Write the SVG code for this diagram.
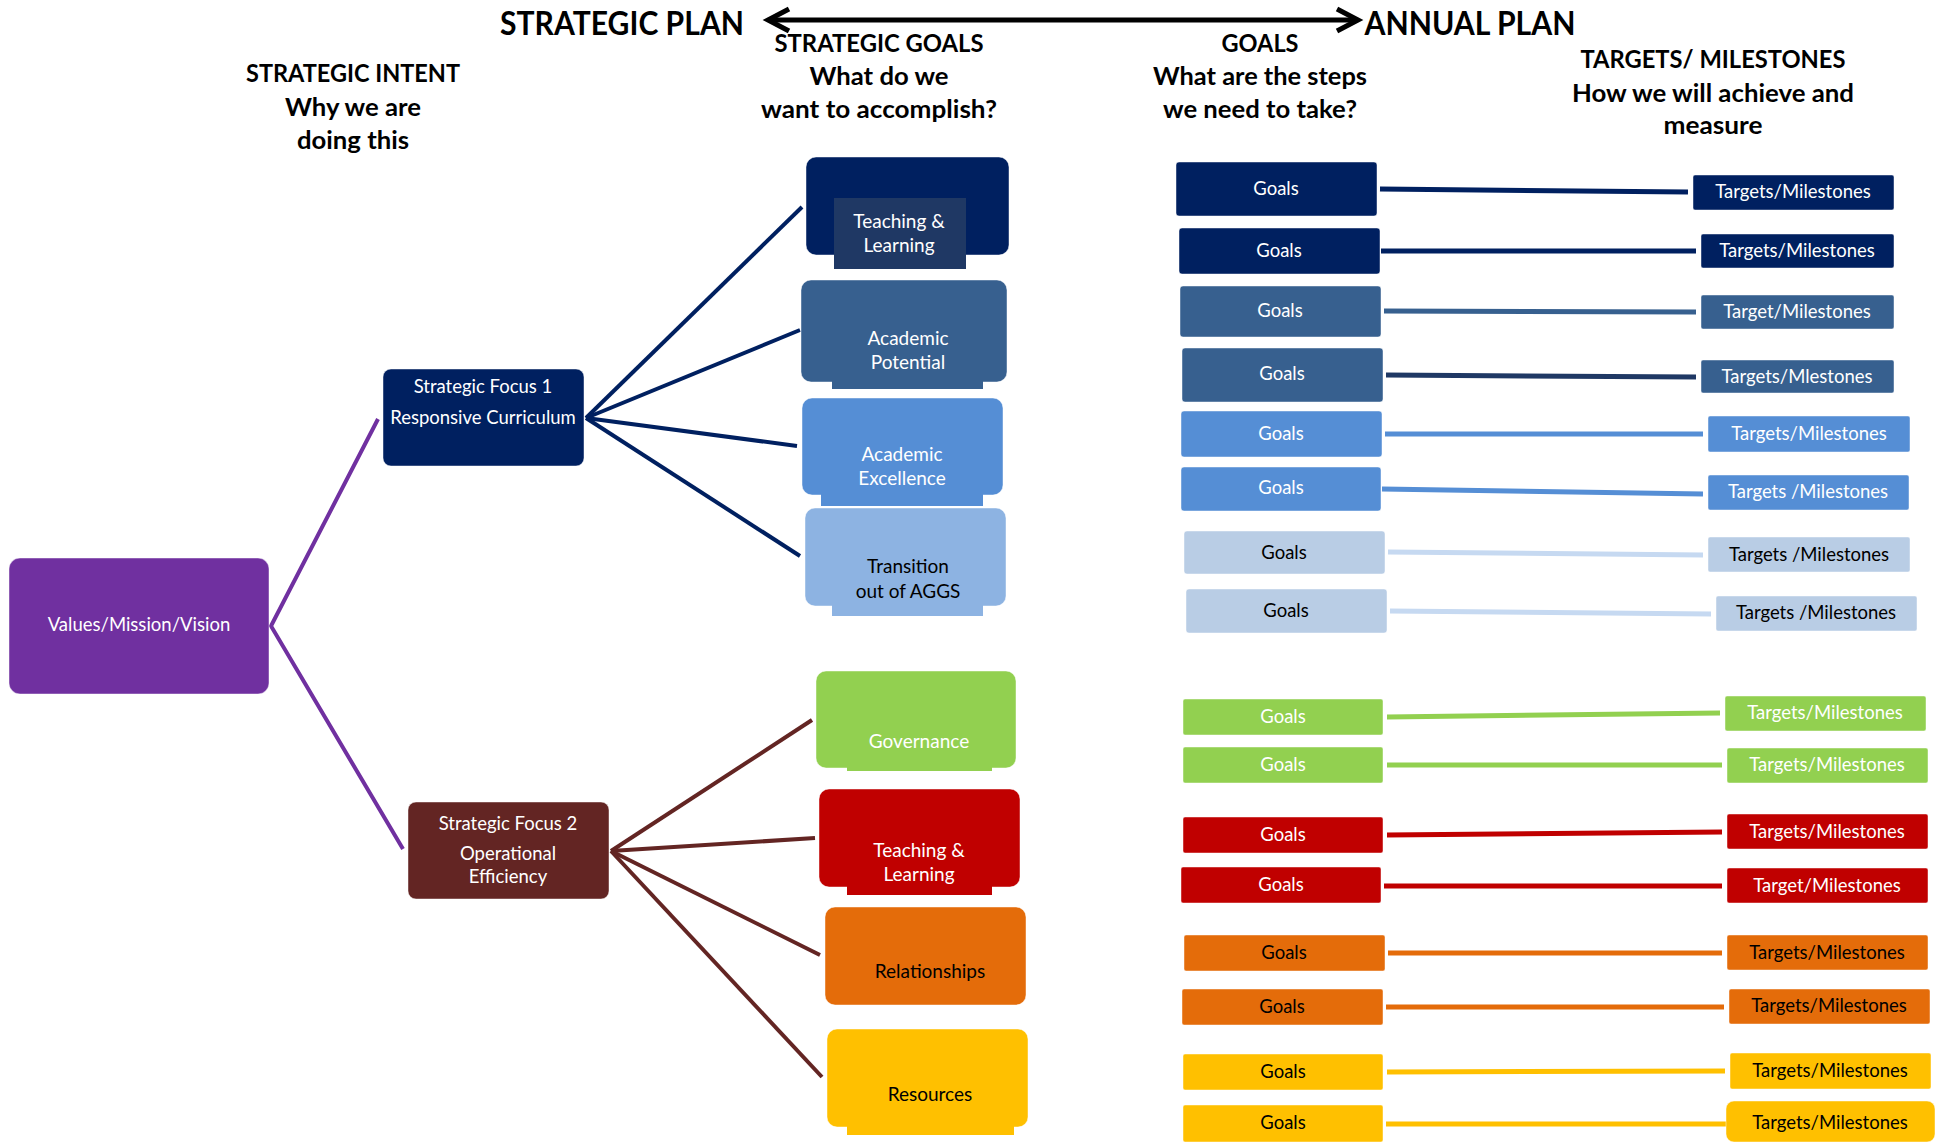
<svg xmlns="http://www.w3.org/2000/svg" width="1944" height="1143" viewBox="0 0 1944 1143">
<defs>
<style>
text{font-family:Lato,"Liberation Sans",sans-serif;text-anchor:middle}
.h{font-weight:bold;font-size:24px;fill:#000}
.big{font-weight:bold;font-size:32px;fill:#000}
.w{fill:#fff}
.k{fill:#000}
.t19{font-size:19px}
.t18{font-size:18.5px}
.t17{font-size:18.5px}
.edge{stroke:#ffffff;stroke-opacity:0.45;stroke-width:1}
.c{fill:none;stroke-width:5;stroke-linecap:butt}
.navy{fill:#002060}.purple{fill:#7030A0}.maroon{fill:#632523}.inner{fill:#1F3864}
.mid{fill:#37608F}.blue{fill:#558ED5}.lblue{fill:#8DB3E2}.pale{fill:#B9CDE5}
.green{fill:#92D050}.red{fill:#C00000}.orange{fill:#E46C0A}.yellow{fill:#FFC000}
</style>
</defs>
<rect width="1944" height="1143" fill="#fff"/>

<g id="header">
<text class="big" x="622" y="35" textLength="244" lengthAdjust="spacingAndGlyphs">STRATEGIC PLAN</text>
<text class="big" x="1470" y="35" textLength="211" lengthAdjust="spacingAndGlyphs">ANNUAL PLAN</text>
<g fill="none" stroke="#000" stroke-width="5" stroke-linejoin="miter">
<line x1="770" y1="20" x2="1356" y2="20"/>
<polyline points="789,9 768,20 789,31"/>
<polyline points="1337,9 1358,20 1337,31"/>
</g>
<text class="h" x="353" y="82" textLength="214" lengthAdjust="spacingAndGlyphs">STRATEGIC INTENT</text>
<text class="h" x="353" y="116" textLength="136" lengthAdjust="spacingAndGlyphs">Why we are</text>
<text class="h" x="353" y="149" textLength="112" lengthAdjust="spacingAndGlyphs">doing this</text>
<text class="h" x="879" y="52" textLength="209" lengthAdjust="spacingAndGlyphs">STRATEGIC GOALS</text>
<text class="h" x="879" y="85" textLength="139" lengthAdjust="spacingAndGlyphs">What do we</text>
<text class="h" x="879" y="118" textLength="236" lengthAdjust="spacingAndGlyphs">want to accomplish?</text>
<text class="h" x="1260" y="52" textLength="77" lengthAdjust="spacingAndGlyphs">GOALS</text>
<text class="h" x="1260" y="85" textLength="214" lengthAdjust="spacingAndGlyphs">What are the steps</text>
<text class="h" x="1260" y="118" textLength="194" lengthAdjust="spacingAndGlyphs">we need to take?</text>
<text class="h" x="1713" y="68" textLength="265" lengthAdjust="spacingAndGlyphs">TARGETS/ MILESTONES</text>
<text class="h" x="1713" y="102" textLength="282" lengthAdjust="spacingAndGlyphs">How we will achieve and</text>
<text class="h" x="1713" y="134" textLength="99" lengthAdjust="spacingAndGlyphs">measure</text>
</g>

<g id="connectors">
<g stroke="#7030A0" stroke-width="4" fill="none">
<polyline points="378,419 271,626 403,849"/>
</g>
<g stroke="#002060" stroke-width="4" fill="none">
<line x1="586" y1="418" x2="802" y2="207"/>
<line x1="586" y1="418" x2="800" y2="330"/>
<line x1="586" y1="418" x2="797" y2="446"/>
<line x1="586" y1="418" x2="800" y2="556"/>
</g>
<g stroke="#632523" stroke-width="4" fill="none">
<line x1="611" y1="851" x2="812" y2="720"/>
<line x1="611" y1="851" x2="815" y2="838"/>
<line x1="611" y1="851" x2="820" y2="955"/>
<line x1="611" y1="851" x2="822" y2="1077"/>
</g>
<line class="c" stroke="#002060" x1="1380" y1="189" x2="1688" y2="192"/>
<line class="c" stroke="#002060" stroke-width="6" x1="1381" y1="251" x2="1696" y2="251"/>
<line class="c" stroke="#37608F" x1="1384" y1="311" x2="1696" y2="312"/>
<line class="c" stroke="#1F3864" x1="1386" y1="375" x2="1696" y2="377"/>
<line class="c" stroke="#558ED5" x1="1385" y1="434" x2="1703" y2="434"/>
<line class="c" stroke="#558ED5" x1="1382" y1="489" x2="1703" y2="494"/>
<line class="c" stroke="#C6D9F1" x1="1388" y1="552" x2="1703" y2="555"/>
<line class="c" stroke="#C6D9F1" x1="1390" y1="611" x2="1711" y2="614"/>
<line class="c" stroke="#92D050" x1="1387" y1="717" x2="1720" y2="713"/>
<line class="c" stroke="#92D050" x1="1387" y1="765" x2="1722" y2="765"/>
<line class="c" stroke="#C00000" x1="1387" y1="835" x2="1722" y2="832"/>
<line class="c" stroke="#C00000" x1="1384" y1="886" x2="1722" y2="886"/>
<line class="c" stroke="#E46C0A" x1="1388" y1="953" x2="1722" y2="953"/>
<line class="c" stroke="#E46C0A" x1="1386" y1="1007" x2="1724" y2="1007"/>
<line class="c" stroke="#FFC000" x1="1387" y1="1072" x2="1725" y2="1071"/>
<line class="c" stroke="#FFC000" x1="1386" y1="1124" x2="1726" y2="1124"/>
</g>

<g id="values">
<rect class="purple edge" x="9" y="558" width="260" height="136" rx="11"/>
<text class="w t17" x="139" y="631">Values/Mission/Vision</text>
</g>
<g id="focus1">
<rect class="navy edge" x="383" y="369" width="201" height="97" rx="8"/>
<text class="w t17" x="483" y="393">Strategic Focus 1</text>
<text class="w t17" x="483" y="424">Responsive Curriculum</text>
</g>
<g id="focus2">
<rect class="maroon edge" x="408" y="802" width="201" height="97" rx="8"/>
<text class="w t17" x="508" y="830">Strategic Focus 2</text>
<text class="w t17" x="508" y="860">Operational</text>
<text class="w t17" x="508" y="883">Efficiency</text>
</g>

<g id="sg-teaching1">
<rect class="navy edge" x="806" y="157" width="203" height="98" rx="10"/>
<rect class="inner" x="834" y="198" width="132" height="71"/>
<text class="w t19" x="899" y="228">Teaching &amp;</text>
<text class="w t19" x="899" y="252">Learning</text>
</g>
<g id="sg-potential">
<rect class="mid edge" x="801" y="280" width="206" height="102" rx="10"/>
<rect class="mid" x="832" y="360" width="151" height="29"/>
<text class="w t19" x="908" y="345">Academic</text>
<text class="w t19" x="908" y="369">Potential</text>
</g>
<g id="sg-excellence">
<rect class="blue edge" x="802" y="398" width="201" height="97" rx="10"/>
<rect class="blue" x="821" y="470" width="162" height="36"/>
<text class="w t19" x="902" y="461">Academic</text>
<text class="w t19" x="902" y="485">Excellence</text>
</g>
<g id="sg-transition">
<rect class="lblue edge" x="805" y="508" width="201" height="98" rx="10"/>
<rect class="lblue" x="832" y="580" width="151" height="36"/>
<text class="k t19" x="908" y="573">Transition</text>
<text class="k t19" x="908" y="598">out of AGGS</text>
</g>
<g id="sg-governance">
<rect class="green edge" x="816" y="671" width="200" height="97" rx="10"/>
<rect class="green" x="847" y="740" width="145" height="31"/>
<text class="w t19" x="919" y="748">Governance</text>
</g>
<g id="sg-teaching2">
<rect class="red edge" x="819" y="789" width="201" height="98" rx="10"/>
<rect class="red" x="847" y="860" width="145" height="35"/>
<text class="w t19" x="919" y="857">Teaching &amp;</text>
<text class="w t19" x="919" y="881">Learning</text>
</g>
<g id="sg-relationships">
<rect class="orange edge" x="825" y="907" width="201" height="98" rx="10"/>
<text class="k t19" x="930" y="978">Relationships</text>
</g>
<g id="sg-resources">
<rect class="yellow edge" x="827" y="1029" width="201" height="98" rx="10"/>
<rect class="yellow" x="847" y="1100" width="167" height="35"/>
<text class="k t19" x="930" y="1101">Resources</text>
</g>

<g id="goal1"><rect class="navy edge" x="1176" y="162" width="201" height="54" rx="3"/><text class="w t18" x="1276" y="195">Goals</text></g>
<g id="goal2"><rect class="navy edge" x="1179" y="228" width="201" height="46" rx="3"/><text class="w t18" x="1279" y="257">Goals</text></g>
<g id="goal3"><rect class="mid edge" x="1180" y="286" width="201" height="51" rx="3"/><text class="w t18" x="1280" y="317">Goals</text></g>
<g id="goal4"><rect class="mid edge" x="1182" y="348" width="201" height="54" rx="3"/><text class="w t18" x="1282" y="380">Goals</text></g>
<g id="goal5"><rect class="blue edge" x="1181" y="411" width="201" height="46" rx="3"/><text class="w t18" x="1281" y="440">Goals</text></g>
<g id="goal6"><rect class="blue edge" x="1181" y="467" width="200" height="44" rx="3"/><text class="w t18" x="1281" y="494">Goals</text></g>
<g id="goal7"><rect class="pale edge" x="1184" y="531" width="201" height="43" rx="3"/><text class="k t18" x="1284" y="559">Goals</text></g>
<g id="goal8"><rect class="pale edge" x="1186" y="589" width="201" height="44" rx="3"/><text class="k t18" x="1286" y="617">Goals</text></g>
<g id="goal9"><rect class="green edge" x="1183" y="699" width="200" height="36" rx="2"/><text class="w t18" x="1283" y="723">Goals</text></g>
<g id="goal10"><rect class="green edge" x="1183" y="747" width="200" height="36" rx="2"/><text class="w t18" x="1283" y="771">Goals</text></g>
<g id="goal11"><rect class="red edge" x="1183" y="817" width="200" height="36" rx="2"/><text class="w t18" x="1283" y="841">Goals</text></g>
<g id="goal12"><rect class="red edge" x="1181" y="867" width="200" height="36" rx="2"/><text class="w t18" x="1281" y="891">Goals</text></g>
<g id="goal13"><rect class="orange edge" x="1184" y="935" width="201" height="36" rx="2"/><text class="k t18" x="1284" y="959">Goals</text></g>
<g id="goal14"><rect class="orange edge" x="1182" y="989" width="201" height="36" rx="2"/><text class="k t18" x="1282" y="1013">Goals</text></g>
<g id="goal15"><rect class="yellow edge" x="1183" y="1054" width="200" height="36" rx="2"/><text class="k t18" x="1283" y="1078">Goals</text></g>
<g id="goal16"><rect class="yellow edge" x="1183" y="1105" width="200" height="37" rx="2"/><text class="k t18" x="1283" y="1129">Goals</text></g>

<g id="target1"><rect class="navy edge" x="1693" y="175" width="201" height="35" rx="2"/><text class="w t18" x="1793" y="198">Targets/Milestones</text></g>
<g id="target2"><rect class="navy edge" x="1701" y="234" width="193" height="34" rx="2"/><text class="w t18" x="1797" y="257">Targets/Milestones</text></g>
<g id="target3"><rect class="mid edge" x="1701" y="295" width="193" height="34" rx="2"/><text class="w t18" x="1797" y="318">Target/Milestones</text></g>
<g id="target4"><rect class="mid edge" x="1701" y="360" width="193" height="33" rx="2"/><text class="w t18" x="1797" y="383">Targets/Mlestones</text></g>
<g id="target5"><rect class="blue edge" x="1708" y="416" width="202" height="36" rx="2"/><text class="w t18" x="1809" y="440">Targets/Milestones</text></g>
<g id="target6"><rect class="blue edge" x="1708" y="475" width="201" height="35" rx="2"/><text class="w t18" x="1808" y="498">Targets /Milestones</text></g>
<g id="target7"><rect class="pale edge" x="1708" y="537" width="202" height="35" rx="2"/><text class="k t18" x="1809" y="561">Targets /Milestones</text></g>
<g id="target8"><rect class="pale edge" x="1716" y="596" width="201" height="35" rx="2"/><text class="k t18" x="1816" y="619">Targets /Milestones</text></g>
<g id="target9"><rect class="green edge" x="1725" y="696" width="201" height="35" rx="2"/><text class="w t18" x="1825" y="719">Targets/Milestones</text></g>
<g id="target10"><rect class="green edge" x="1727" y="748" width="201" height="35" rx="2"/><text class="w t18" x="1827" y="771">Targets/Milestones</text></g>
<g id="target11"><rect class="red edge" x="1727" y="814" width="201" height="35" rx="2"/><text class="w t18" x="1827" y="838">Targets/Milestones</text></g>
<g id="target12"><rect class="red edge" x="1727" y="868" width="201" height="35" rx="2"/><text class="w t18" x="1827" y="892">Target/Milestones</text></g>
<g id="target13"><rect class="orange edge" x="1727" y="935" width="201" height="35" rx="2"/><text class="k t18" x="1827" y="959">Targets/Milestones</text></g>
<g id="target14"><rect class="orange edge" x="1729" y="989" width="201" height="35" rx="2"/><text class="k t18" x="1829" y="1012">Targets/Milestones</text></g>
<g id="target15"><rect class="yellow edge" x="1730" y="1053" width="201" height="36" rx="2"/><text class="k t18" x="1830" y="1077">Targets/Milestones</text></g>
<g id="target16"><rect class="yellow edge" x="1726" y="1101" width="209" height="41" rx="8"/><text class="k t18" x="1830" y="1129">Targets/Milestones</text></g>
</svg>
